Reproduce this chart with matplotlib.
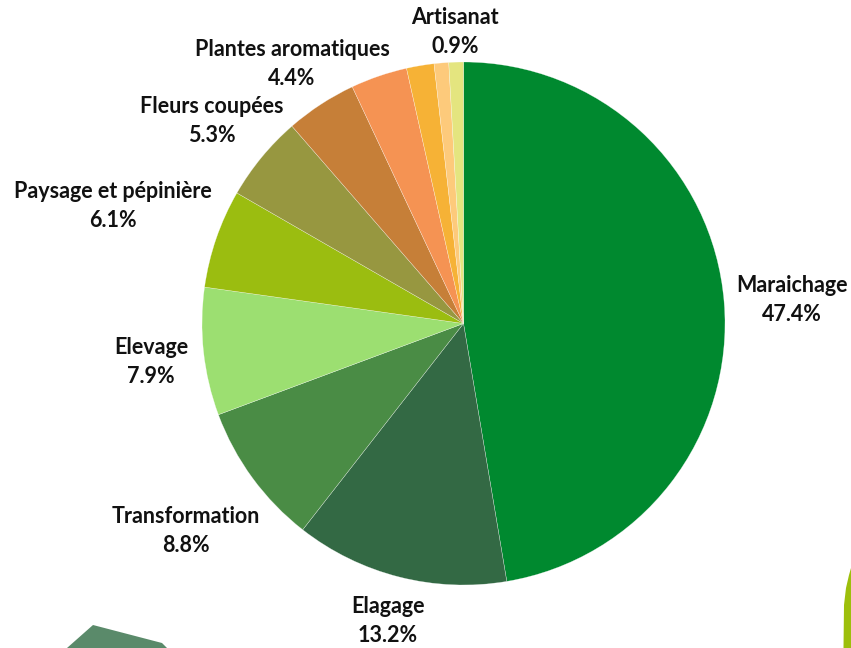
import matplotlib
matplotlib.use("Agg")
import matplotlib.pyplot as plt
from matplotlib.patches import Polygon

categories = ["Maraichage", "Elagage", "Transformation", "Elevage",
              "Paysage et pépinière", "Fleurs coupées", "Plantes aromatiques",
              "", "", "", "Artisanat"]
values = [47.4, 13.2, 8.8, 7.9, 6.1, 5.3, 4.4, 3.5, 1.7, 0.9, 0.9]
pct_labels = ["47.4%", "13.2%", "8.8%", "7.9%", "6.1%", "5.3%", "4.4%", "", "", "", "0.9%"]
colors = ["#00892F", "#336944", "#4A8C45", "#9CDF71", "#9BBD10", "#979740",
          "#C67F38", "#F59353", "#F6B236", "#FDCA7B", "#E4E57F"]

# label centres in pixel coordinates (x, y from top)
label_pos = [(792, 300), (388, 621), (186, 531), (151, 362), (113, 206),
             (212, 121), (292, 64), None, None, None, (455, 32)]

W, H = 851, 648
fig = plt.figure(figsize=(W / 100, H / 100), dpi=100)
ax = fig.add_axes([0, 0, 1, 1])

cx, cy, r = 463.5, H - 323.5, 261.5
ax.pie(values, colors=colors, startangle=90, counterclock=False,
       center=(cx, cy), radius=r, frame=True,
       wedgeprops=dict(linewidth=0.3, edgecolor=(1, 1, 1, 0.6)))
ax.set_xlim(0, W)
ax.set_ylim(0, H)
ax.set_aspect("equal")
ax.axis("off")

for name, pct, pos in zip(categories, pct_labels, label_pos):
    if pos is None:
        continue
    ax.text(pos[0], H - pos[1], f"{name}\n{pct}", ha="center", va="center",
            fontsize=15.5, fontfamily="Lato", fontweight="bold",
            color="#111111", linespacing=1.5)

# decorative shapes
ax.add_patch(Polygon([(67, H - 648), (93, H - 625), (162, H - 643), (167, H - 648)],
                     closed=True, facecolor="#5A8A6A", edgecolor="none"))
ax.add_patch(Polygon([(851, H - 568), (849, H - 575), (846, H - 588), (844, H - 605),
                      (843.5, H - 648), (851, H - 648)],
                     closed=True, facecolor="#9DBF0B", edgecolor="none"))

fig.savefig("out.png", dpi=100)
